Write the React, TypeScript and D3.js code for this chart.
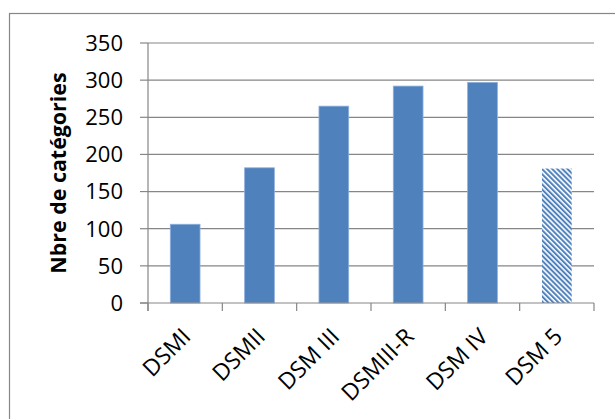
import React from 'react';
import * as d3 from 'd3';

// DSM editions and the number of diagnostic categories in each
const categories = ['DSMI', 'DSMII', 'DSM III', 'DSMIII-R', 'DSM IV', 'DSM 5'];
const counts = [106, 182, 265, 292, 297, 181];
const hatched = [false, false, false, false, false, true];
const yTicks = [0, 50, 100, 150, 200, 250, 300, 350];
const yTitle = 'Nbre de catégories';

const W = 615;
const H = 419;
const plot = { left: 148, right: 594, top: 43, bottom: 303 };
const font = '"Open Sans", sans-serif';
const blue = '#4f81bd';
const grid = '#868686';

const App: React.FC = () => {
    const x = d3.scaleBand<string>()
        .domain(categories)
        .range([plot.left, plot.right])
        .paddingInner(0.6)
        .paddingOuter(0.3);

    const y = d3.scaleLinear()
        .domain([0, 350])
        .range([plot.bottom, plot.top]);

    const step = (plot.right - plot.left) / categories.length;
    const xTickPos = d3.range(categories.length + 1).map(i => plot.left + i * step);

    return (
        <svg width={W} height={H} style={{ position: 'fixed', left: 0, top: 0, background: '#fff' }}>
            <defs>
                <pattern id="hatch" width={3.6} height={3.6} patternUnits="userSpaceOnUse" patternTransform="rotate(-45)">
                    <rect width={3.6} height={3.6} fill="#fff" />
                    <rect width={2} height={3.6} fill={blue} />
                </pattern>
            </defs>

            {/* chart frame */}
            <rect x={9.5} y={13.5} width={W} height={H} fill="none" stroke={grid} strokeWidth={1.2} />

            {/* gridlines */}
            {yTicks.filter(t => t > 0).map(t => (
                <line key={t} x1={plot.left} x2={plot.right} y1={y(t)} y2={y(t)} stroke={grid} strokeWidth={1.2} />
            ))}

            {/* bars */}
            {categories.map((c, i) => (
                <rect
                    key={c}
                    x={x(c)}
                    y={y(counts[i])}
                    width={x.bandwidth()}
                    height={y(0) - y(counts[i])}
                    fill={hatched[i] ? 'url(#hatch)' : blue}
                    stroke={hatched[i] ? 'none' : '#8eb0dc'}
                    strokeWidth={0.8}
                />
            ))}

            {/* y axis */}
            <line x1={plot.left} x2={plot.left} y1={plot.top} y2={plot.bottom + 8} stroke={grid} strokeWidth={1.2} />
            {yTicks.map(t => (
                <g key={t}>
                    <line x1={plot.left - 8} x2={plot.left} y1={y(t)} y2={y(t)} stroke={grid} strokeWidth={1.2} />
                    <text x={123} y={y(t)} dy="0.36em" textAnchor="end" fontFamily={font} fontSize={22} fill="#000">
                        {t}
                    </text>
                </g>
            ))}

            {/* x axis */}
            <line x1={plot.left - 8} x2={plot.right} y1={plot.bottom} y2={plot.bottom} stroke={grid} strokeWidth={1.2} />
            {xTickPos.map((p, i) => (
                <line key={i} x1={p} x2={p} y1={plot.bottom} y2={plot.bottom + 8} stroke={grid} strokeWidth={1.2} />
            ))}
            {categories.map(c => {
                const cx = (x(c) ?? 0) + x.bandwidth() / 2;
                return (
                    <text
                        key={c}
                        transform={`translate(${cx + 7},${plot.bottom + 35}) rotate(-45)`}
                        textAnchor="end"
                        fontFamily={font}
                        fontSize={23}
                        fill="#000"
                    >
                        {c}
                    </text>
                );
            })}

            {/* y title */}
            <text
                transform={`translate(66,${(plot.top + plot.bottom) / 2}) rotate(-90)`}
                textAnchor="middle"
                fontFamily={font}
                fontWeight="bold"
                fontSize={21.4}
                fill="#000"
            >
                {yTitle}
            </text>
        </svg>
    );
};

export default App;
